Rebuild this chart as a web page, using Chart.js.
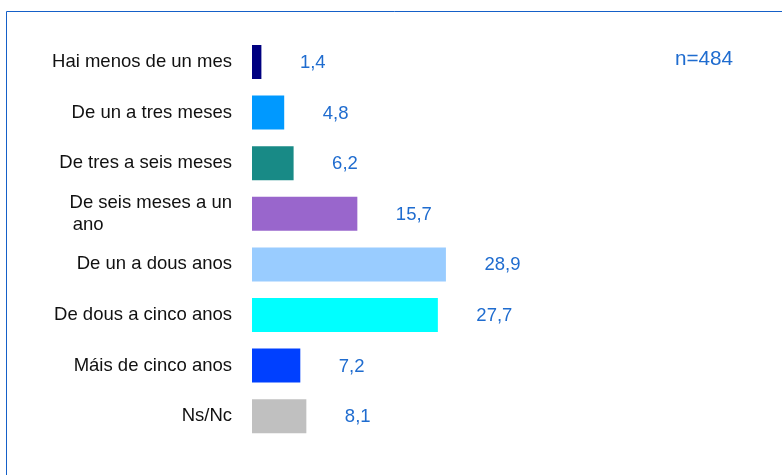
<!DOCTYPE html>
<html>
<head>
<meta charset="utf-8">
<script src="https://cdn.jsdelivr.net/npm/chart.js@4"></script>
<style>
  html, body { margin: 0; padding: 0; background: #ffffff; }
  #wrap { position: relative; width: 782px; height: 475px; }
</style>
</head>
<body>
<div id="wrap"><canvas id="c" width="782" height="475"></canvas></div>
<script>
const categories = [
  'Hai menos de un mes',
  'De un a tres meses',
  'De tres a seis meses',
  ['De seis meses a un', 'ano'],
  'De un a dous anos',
  'De dous a cinco anos',
  'Máis de cinco anos',
  'Ns/Nc'
];
const values = [1.4, 4.8, 6.2, 15.7, 28.9, 27.7, 7.2, 8.1];
const valueLabels = ['1,4', '4,8', '6,2', '15,7', '28,9', '27,7', '7,2', '8,1'];
const barColors = ['#000080', '#0099ff', '#188a86', '#9966cc', '#99ccff', '#00ffff', '#0040ff', '#c0c0c0'];
const sampleNote = 'n=484';

const FONT = '"Liberation Sans", Arial, sans-serif';
const labelBlue = '#1f6ccf';
const CAT_SIZE = 18.5;

// pad short lines of multi-line labels so each block reads left-aligned
const mctx = document.createElement('canvas').getContext('2d');
mctx.font = CAT_SIZE + 'px ' + FONT;
function padLines(lbl) {
  if (!Array.isArray(lbl)) return lbl;
  const w = Math.max(...lbl.map(l => mctx.measureText(l).width));
  const sp = mctx.measureText(' ').width;
  return lbl.map(l => l + ' '.repeat(Math.max(0, Math.floor((w - mctx.measureText(l).width) / sp))));
}

const decorPlugin = {
  id: 'decor',
  beforeDraw(chart) {
    const ctx = chart.ctx;
    ctx.save();
    ctx.strokeStyle = '#1560c8';
    ctx.lineWidth = 1;
    ctx.beginPath();
    ctx.moveTo(6.5, 480);
    ctx.lineTo(6.5, 11.5);
    ctx.lineTo(790, 11.5);
    ctx.stroke();
    ctx.restore();
  },
  afterDatasetsDraw(chart) {
    const ctx = chart.ctx;
    const meta = chart.getDatasetMeta(0);
    ctx.save();
    ctx.font = '18.5px ' + FONT;
    ctx.fillStyle = labelBlue;
    ctx.textAlign = 'left';
    ctx.textBaseline = 'middle';
    meta.data.forEach((bar, i) => {
      ctx.fillText(valueLabels[i], bar.x + 38.5, bar.y + 1);
    });
    ctx.font = '20.7px ' + FONT;
    ctx.fillText(sampleNote, 675, 59);
    ctx.restore();
  }
};

new Chart(document.getElementById('c'), {
  type: 'bar',
  data: {
    labels: categories,
    datasets: [{
      data: values,
      backgroundColor: barColors,
      borderWidth: 0,
      barPercentage: 0.672,
      categoryPercentage: 1.0
    }]
  },
  options: {
    indexAxis: 'y',
    responsive: false,
    animation: false,
    devicePixelRatio: 1,
    layout: { padding: { top: 36.7, bottom: 33.5, left: 0, right: 127.4 } },
    plugins: {
      legend: { display: false },
      tooltip: { enabled: false }
    },
    scales: {
      x: {
        display: false,
        min: 0,
        max: 60
      },
      y: {
        afterFit(scale) { scale.width = 252; },
        grid: { display: false, drawTicks: false },
        border: { display: false },
        ticks: {
          padding: 20,
          color: '#111111',
          font: { size: CAT_SIZE, family: FONT, lineHeight: 1.15 },
          callback(value, index) { return padLines(categories[index]); }
        }
      }
    }
  },
  plugins: [decorPlugin]
});
</script>
</body>
</html>
